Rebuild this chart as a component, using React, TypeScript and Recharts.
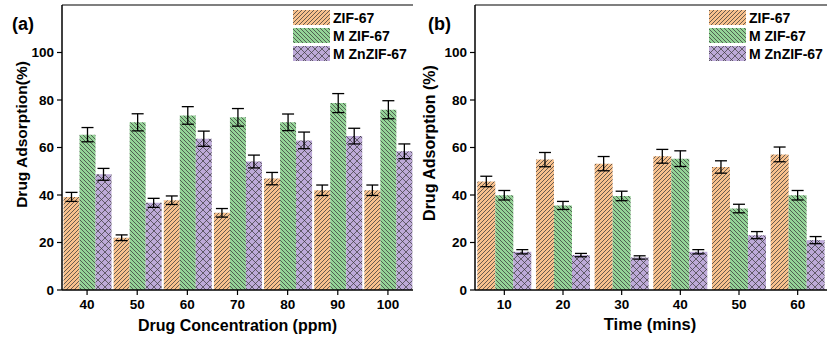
import React from 'react';
import { BarChart, Bar, XAxis, YAxis, ErrorBar, ReferenceLine } from 'recharts';

// ---------- data ----------
const concCats = ['40', '50', '60', '70', '80', '90', '100'];
const concZif = [39.2, 22, 37.8, 32.5, 46.9, 42, 42];
const concZifErr = [1.9, 1.2, 1.8, 1.8, 2.6, 2.2, 2.2];
const concMZif = [65.4, 70.6, 73.5, 72.7, 70.6, 78.7, 75.9];
const concMZifErr = [3.0, 3.6, 3.7, 3.7, 3.5, 4.0, 3.8];
const concMZn = [48.7, 36.7, 63.7, 54.1, 63, 64.8, 58.4];
const concMZnErr = [2.5, 1.9, 3.2, 2.7, 3.5, 3.3, 3.1];

const timeCats = ['10', '20', '30', '40', '50', '60'];
const timeZif = [45.7, 54.9, 53.2, 56.3, 51.8, 57.1];
const timeZifErr = [2.2, 3.0, 3.0, 2.9, 2.6, 3.1];
const timeMZif = [39.9, 35.6, 39.6, 55.3, 34.3, 39.9];
const timeMZifErr = [2.0, 1.7, 2.0, 3.3, 1.8, 2.0];
const timeMZn = [16.1, 14.7, 13.7, 16.1, 23.1, 21];
const timeMZnErr = [0.9, 0.7, 0.7, 0.9, 1.5, 1.5];

const yTicks = [0, 20, 40, 60, 80, 100];
const yMax = 120;
const seriesNames = ['ZIF-67', 'M ZIF-67', 'M ZnZIF-67'];

const build = (cats: string[], a: number[], ae: number[], b: number[], be: number[], c: number[], ce: number[]) =>
  cats.map((cat, i) => ({ cat, zif: a[i], zifErr: ae[i], mzif: b[i], mzifErr: be[i], mzn: c[i], mznErr: ce[i] }));

const concData = build(concCats, concZif, concZifErr, concMZif, concMZifErr, concMZn, concMZnErr);
const timeData = build(timeCats, timeZif, timeZifErr, timeMZif, timeMZifErr, timeMZn, timeMZnErr);

// ---------- style ----------
const FONT = "'Liberation Sans', Arial, Helvetica, sans-serif";
const ORANGE = '#F8C18D';
const GREEN = '#94D397';
const PURPLE = '#BDAAD8';
const HATCH = '#3a3a3a';

const Patterns = ({ p }: { p: string }) => (
  <defs>
    <pattern id={`${p}-zif`} patternUnits="userSpaceOnUse" width="4" height="4">
      <rect width="4" height="4" fill={ORANGE} />
      <path d="M-1,1 l2,-2 M0,4 l4,-4 M3,5 l2,-2" stroke={HATCH} strokeWidth="0.75" />
    </pattern>
    <pattern id={`${p}-mzif`} patternUnits="userSpaceOnUse" width="4" height="4">
      <rect width="4" height="4" fill={GREEN} />
      <path d="M-1,3 l2,2 M0,0 l4,4 M3,-1 l2,2" stroke={HATCH} strokeWidth="0.75" />
    </pattern>
    <pattern id={`${p}-mzn`} patternUnits="userSpaceOnUse" width="7" height="7">
      <rect width="7" height="7" fill={PURPLE} />
      <path d="M0,0 l7,7 M7,0 l-7,7 M-1,1 l2,-2 M6,8 l2,-2 M-1,6 l2,2 M6,-1 l2,2" stroke={HATCH} strokeWidth="0.7" />
    </pattern>
  </defs>
);

const tickStyle = { fontSize: 13.5, fontWeight: 700, fill: '#000', fontFamily: FONT };

function Panel({ data, p, yWidth, right, gap }: { data: any[]; p: string; yWidth: number; right: number; gap: number }) {
  return (
    <BarChart
      width={416}
      height={339}
      data={data}
      margin={{ top: 5, right, left: 0, bottom: 0 }}
      barCategoryGap={gap}
      barGap={0}
    >
      <Patterns p={p} />
      <XAxis
        dataKey="cat"
        height={49}
        interval={0}
        tickSize={5}
        tickMargin={4}
        tick={tickStyle}
        axisLine={{ stroke: '#000', strokeWidth: 1.5 }}
        tickLine={{ stroke: '#000', strokeWidth: 1.2 }}
      />
      <YAxis
        width={yWidth}
        domain={[0, yMax]}
        ticks={yTicks}
        allowDataOverflow
        tickSize={5}
        tickMargin={3}
        tick={tickStyle}
        axisLine={{ stroke: '#000', strokeWidth: 1.5 }}
        tickLine={{ stroke: '#000', strokeWidth: 1.2 }}
      />
      <YAxis yAxisId="r" orientation="right" width={0} domain={[0, yMax]} tick={false} tickLine={false} axisLine={{ stroke: '#000', strokeWidth: 1.2 }} />
      <ReferenceLine y={yMax} stroke="#000" strokeWidth={1.2} />
      <Bar dataKey="zif" fill={`url(#${p}-zif)`} isAnimationActive={false}>
        <ErrorBar dataKey="zifErr" width={6} stroke="#000" strokeWidth={1.3} />
      </Bar>
      <Bar dataKey="mzif" fill={`url(#${p}-mzif)`} isAnimationActive={false}>
        <ErrorBar dataKey="mzifErr" width={6} stroke="#000" strokeWidth={1.3} />
      </Bar>
      <Bar dataKey="mzn" fill={`url(#${p}-mzn)`} isAnimationActive={false}>
        <ErrorBar dataKey="mznErr" width={6} stroke="#000" strokeWidth={1.3} />
      </Bar>
    </BarChart>
  );
}

const legendKeys = ['zif', 'mzif', 'mzn'];

function LegendBlock({ x, p }: { x: number; p: string }) {
  return (
    <g>
      {seriesNames.map((n, i) => (
        <g key={n}>
          <rect x={x} y={10 + i * 18} width={37} height={15} fill={`url(#${p}-${legendKeys[i]})`} />
          <text x={x + 40} y={23 + i * 18} fontSize={14} fontWeight={700} fontFamily={FONT} fill="#000">
            {n}
          </text>
        </g>
      ))}
    </g>
  );
}

export default function App() {
  const txt = { fontWeight: 700, fontFamily: FONT, fill: '#000' } as const;
  return (
    <div style={{ position: 'absolute', left: 0, top: 0, width: 832, height: 339, background: '#fff' }}>
      <div style={{ position: 'absolute', left: 0, top: 0 }}>
        <Panel data={concData} p="pa" yWidth={62} right={3} gap={1.5} />
      </div>
      <div style={{ position: 'absolute', left: 416, top: 0 }}>
        <Panel data={timeData} p="pb" yWidth={59} right={5} gap={2.3} />
      </div>
      <svg width={832} height={339} style={{ position: 'absolute', left: 0, top: 0, pointerEvents: 'none' }}>
        <Patterns p="lg" />
        <text x={12} y={30} fontSize={18} {...txt}>(a)</text>
        <text x={428} y={30} fontSize={18} {...txt}>(b)</text>
        <text transform="translate(21,134.5) rotate(-90)" textAnchor="middle" dominantBaseline="central" fontSize={15.5} {...txt}>
          Drug Adsorption(%)
        </text>
        <text transform="translate(429,143) rotate(-90)" textAnchor="middle" dominantBaseline="central" fontSize={16} {...txt}>
          Drug Adsorption (%)
        </text>
        <text x={237.5} y={325} textAnchor="middle" dominantBaseline="central" fontSize={16} {...txt}>
          Drug Concentration (ppm)
        </text>
        <text x={650} y={324} textAnchor="middle" dominantBaseline="central" fontSize={16.5} {...txt}>
          Time (mins)
        </text>
        <LegendBlock x={293} p="lg" />
        <LegendBlock x={709} p="lg" />
      </svg>
    </div>
  );
}
